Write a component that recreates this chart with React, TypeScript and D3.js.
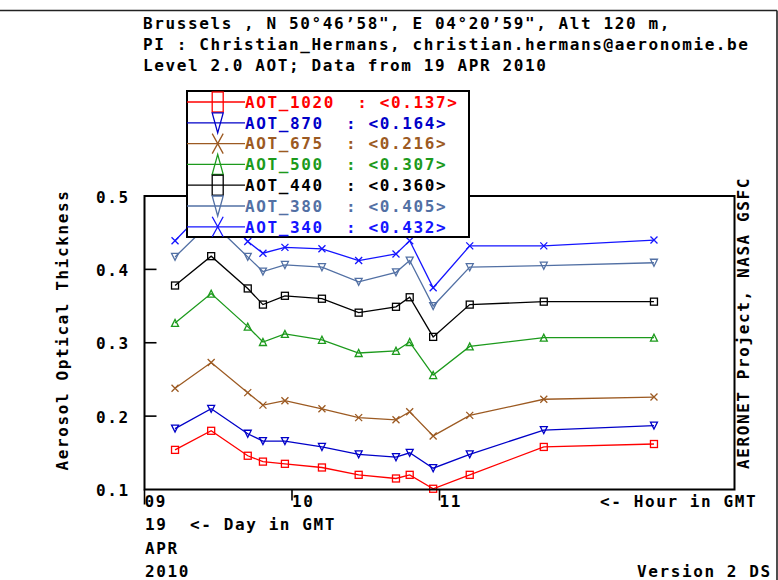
import React from "react";
import * as d3 from "d3";

// ---------- data ----------
const hours = [9.207, 9.452, 9.70, 9.803, 9.952, 10.203, 10.452, 10.705, 10.798, 10.957, 11.205, 11.707, 12.454];
const aot1020 = [0.154, 0.180, 0.146, 0.138, 0.135, 0.130, 0.120, 0.115, 0.120, 0.101, 0.120, 0.158, 0.162];
const aot870 = [0.183, 0.210, 0.176, 0.166, 0.166, 0.158, 0.148, 0.144, 0.150, 0.129, 0.148, 0.181, 0.187];
const aot675 = [0.238, 0.273, 0.232, 0.215, 0.221, 0.210, 0.198, 0.195, 0.206, 0.173, 0.201, 0.223, 0.226];
const aot500 = [0.327, 0.367, 0.322, 0.301, 0.312, 0.304, 0.286, 0.289, 0.301, 0.256, 0.295, 0.307, 0.307];
const aot440 = [0.378, 0.418, 0.374, 0.352, 0.364, 0.360, 0.341, 0.349, 0.362, 0.308, 0.352, 0.356, 0.356];
const aot380 = [0.417, 0.465, 0.417, 0.397, 0.406, 0.403, 0.383, 0.396, 0.412, 0.350, 0.403, 0.405, 0.409];
const aot340 = [0.439, 0.490, 0.438, 0.422, 0.430, 0.428, 0.412, 0.421, 0.439, 0.375, 0.432, 0.432, 0.440];

const seriesNames = ["AOT_1020", "AOT_870", "AOT_675", "AOT_500", "AOT_440", "AOT_380", "AOT_340"];
const seriesMeans = ["0.137", "0.164", "0.216", "0.307", "0.360", "0.405", "0.432"];
const seriesValues = [aot1020, aot870, aot675, aot500, aot440, aot380, aot340];
const seriesColors = ["#ff0000", "#0000c8", "#9c5a22", "#1c9a1c", "#000000", "#5270a4", "#1414ff"];
const seriesMarkers = ["square", "tridown", "x", "triup", "square", "tridown", "x"];

const yTicks = [0.1, 0.2, 0.3, 0.4, 0.5];
const xTickHours = [9, 10, 11];
const xTickLabels = ["09", "10", "11"];

const headerLines = [
  "Brussels , N 50°46’58\", E 04°20’59\", Alt 120 m,",
  "PI : Christian_Hermans, christian.hermans@aeronomie.be",
  "Level 2.0 AOT; Data from 19 APR 2010",
];

// ---------- layout ----------
const W = 778, H = 580;
const plot = { left: 144.5, right: 734.5, top: 196, bottom: 489.5 };
const FONT = "'DejaVu Sans Mono', 'Liberation Mono', monospace";
const textStyle: React.CSSProperties = { whiteSpace: "pre", letterSpacing: "1.6px" };

function Marker({ type, x, y, w, h, color }: { type: string; x: number; y: number; w: number; h: number; color: string }) {
  const hw = w / 2, hh = h / 2;
  if (type === "square") {
    return <rect x={x - hw} y={y - hh} width={w} height={h} fill="none" stroke={color} strokeWidth={1.3} />;
  }
  if (type === "tridown") {
    return <path d={`M${x - hw},${y - hh}L${x + hw},${y - hh}L${x},${y + hh}Z`} fill="none" stroke={color} strokeWidth={1.3} />;
  }
  if (type === "triup") {
    return <path d={`M${x - hw},${y + hh}L${x + hw},${y + hh}L${x},${y - hh}Z`} fill="none" stroke={color} strokeWidth={1.3} />;
  }
  return (
    <path
      d={`M${x - hw},${y - hh}L${x + hw},${y + hh}M${x - hw},${y + hh}L${x + hw},${y - hh}`}
      fill="none"
      stroke={color}
      strokeWidth={1.3}
    />
  );
}

export default function App() {
  const x = d3.scaleLinear().domain([9, 13]).range([plot.left, plot.right]);
  const y = d3.scaleLinear().domain([0.1, 0.5]).range([plot.bottom, plot.top]);
  const line = d3
    .line<[number, number]>()
    .x((d) => x(d[0]))
    .y((d) => y(d[1]));

  const legend = { left: 187, top: 91, right: 469, bottom: 237 };
  const legendRow = d3.scaleLinear().domain([0, 6]).range([102, 226.8]);
  const legendMarkerX = 217.7;

  return (
    <svg width={W} height={H} style={{ position: "absolute", left: 0, top: 0, background: "#fff" }} fontFamily={FONT} fontWeight="bold" fontSize={16}>
      <rect x={0} y={0} width={W} height={H} fill="#fff" />
      {/* outer frame */}
      <line x1={0} y1={10.5} x2={777} y2={10.5} stroke="#222" strokeWidth={1.6} />
      <line x1={777} y1={10.5} x2={777} y2={H} stroke="#222" strokeWidth={1.6} />

      {/* header */}
      {headerLines.map((t, i) => (
        <text key={i} x={143} y={29 + i * 21.2} fill="#000" style={textStyle}>
          {t}
        </text>
      ))}

      {/* series */}
      {seriesValues.map((vals, si) => {
        const pts: [number, number][] = hours.map((h, i) => [h, vals[i]]);
        return (
          <g key={si}>
            <path d={line(pts) || ""} fill="none" stroke={seriesColors[si]} strokeWidth={1.3} />
            {pts.map((p, i) => (
              <Marker key={i} type={seriesMarkers[si]} x={x(p[0])} y={y(p[1])} w={7} h={7} color={seriesColors[si]} />
            ))}
          </g>
        );
      })}

      {/* plot frame */}
      <rect x={plot.left} y={plot.top} width={plot.right - plot.left} height={plot.bottom - plot.top} fill="none" stroke="#000" strokeWidth={2} />
      {/* y ticks */}
      {yTicks.map((t) => (
        <g key={t}>
          {t > 0.1 && t < 0.5 && <line x1={plot.left} x2={plot.left + 12} y1={y(t)} y2={y(t)} stroke="#000" strokeWidth={1.6} />}
          <text x={96} y={y(t) + 6.5} fill="#000" style={textStyle}>
            {d3.format(".1f")(t)}
          </text>
        </g>
      ))}
      {/* x ticks */}
      {xTickHours.map((h, i) => (
        <g key={h}>
          <line x1={x(h)} x2={x(h)} y1={plot.bottom} y2={plot.bottom + (i === 0 ? 15 : 11)} stroke="#000" strokeWidth={1.6} />
          <text x={x(h)} y={506.5} fill="#000" style={textStyle}>
            {xTickLabels[i]}
          </text>
        </g>
      ))}
      <text x={600} y={506.5} fill="#000" style={textStyle}>{"<- Hour in GMT"}</text>
      <text x={145} y={530} fill="#000" style={textStyle}>19</text>
      <text x={190} y={530} fill="#000" style={textStyle}>{"<- Day in GMT"}</text>
      <text x={145} y={554} fill="#000" style={textStyle}>APR</text>
      <text x={145} y={577} fill="#000" style={textStyle}>2010</text>
      <text x={637} y={577} fill="#000" style={textStyle}>Version 2 DS</text>

      {/* axis titles */}
      <text transform="translate(68,330) rotate(-90)" textAnchor="middle" fill="#000" style={textStyle}>
        Aerosol Optical Thickness
      </text>
      <text transform="translate(749,323) rotate(-90)" textAnchor="middle" fill="#000" style={textStyle}>
        AERONET Project, NASA GSFC
      </text>

      {/* legend */}
      <rect x={legend.left} y={legend.top} width={legend.right - legend.left} height={legend.bottom - legend.top} fill="#fff" stroke="#000" strokeWidth={2} />
      {seriesNames.map((name, i) => {
        const cy = legendRow(i);
        const c = seriesColors[i];
        return (
          <g key={name}>
            <line x1={legend.left} x2={245} y1={cy} y2={cy} stroke={c} strokeWidth={1.3} />
            <Marker type={seriesMarkers[i]} x={legendMarkerX} y={cy} w={11} h={20} color={c} />
            <text x={245} y={cy + 5.8} fill={c} style={textStyle}>
              {`${name}  : <${seriesMeans[i]}>`}
            </text>
          </g>
        );
      })}
    </svg>
  );
}
